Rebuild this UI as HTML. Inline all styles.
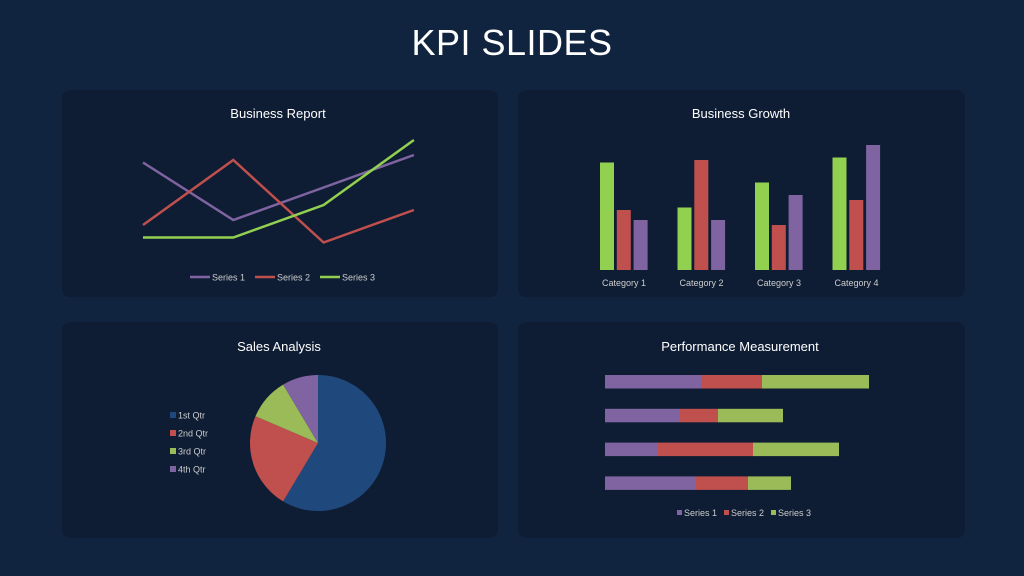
<!DOCTYPE html>
<html><head><meta charset="utf-8"><style>
body{margin:0;width:1024px;height:576px;background:#10233f;font-family:"Liberation Sans",sans-serif;overflow:hidden;position:relative}
.title{position:absolute;left:0;width:1024px;top:22px;text-align:center;color:#fff;font-size:36px;letter-spacing:0.5px}
.panel{position:absolute;background:#0f1d34;border-radius:8px}
svg{position:absolute;left:0;top:0}
</style></head><body>
<div class="title">KPI SLIDES</div>
<div class="panel" style="left:62px;top:90px;width:436px;height:207px"></div>
<div class="panel" style="left:518px;top:90px;width:447px;height:207px"></div>
<div class="panel" style="left:62px;top:322px;width:436px;height:216px"></div>
<div class="panel" style="left:518px;top:322px;width:447px;height:216px"></div>
<svg id="s" width="1024" height="576" font-family="Liberation Sans, sans-serif">
<text x="278" y="118" fill="#fff" font-size="13" text-anchor="middle">Business Report</text>
<text x="741" y="118" fill="#fff" font-size="13" text-anchor="middle">Business Growth</text>
<text x="279" y="351" fill="#fff" font-size="13" text-anchor="middle">Sales Analysis</text>
<text x="740" y="351" fill="#fff" font-size="13" text-anchor="middle">Performance Measurement</text>
</svg>
<script>
const lineS1=[4.3,2.0,3.3,4.6];
const lineS2=[1.8,4.4,1.1,2.4];
const lineS3=[1.3,1.3,2.6,5.2];
const seriesNames=["Series 1","Series 2","Series 3"];
const catNames=["Category 1","Category 2","Category 3","Category 4"];
const barGreen=[4.3,2.5,3.5,4.5];
const barRed=[2.4,4.4,1.8,2.8];
const barPurple=[2.0,2.0,3.0,5.0];
const pieLabels=["1st Qtr","2nd Qtr","3rd Qtr","4th Qtr"];
const pieValues=[8.2,3.2,1.4,1.2];
const stackS1=[4.8,3.75,2.65,4.55];
const stackS2=[3.05,1.9,4.75,2.6];
const stackS3=[5.35,3.25,4.3,2.15];

const NS="http://www.w3.org/2000/svg";
const svg=document.getElementById('s');
function mk(t,a,txt){const e=document.createElementNS(NS,t);for(const k in a)e.setAttribute(k,a[k]);if(txt!==undefined)e.textContent=txt;svg.appendChild(e);return e;}
const PU="#8064a2",RD="#c0504d",GR="#9bbb59",GRB="#92d050",BL="#1f497d";
// line chart
const lx=i=>143+i*90.3, ly=v=>270-v*25;
[[lineS1,PU],[lineS2,RD],[lineS3,GRB]].forEach((s,k)=>{
 const p=mk('polyline',{points:s[0].map((v,i)=>lx(i)+','+ly(v)).join(' '),fill:'none',stroke:s[1],'stroke-width':2.5});
 
 
 const x=190+k*65;
 const l=mk('line',{x1:x,y1:277,x2:x+20,y2:277,stroke:s[1],'stroke-width':2.5});
 
 
 const t=mk('text',{x:x+22,y:280.5,fill:'#ccc','font-size':9},seriesNames[k]);
 
 
});
// bar chart
const by=v=>270-v*25;
catNames.forEach((c,i)=>{
 const x0=600+i*77.5;
 [[barGreen,GRB],[barRed,RD],[barPurple,PU]].forEach((s,k)=>{
  const r=mk('rect',{x:x0+k*16.8,y:by(s[0][i]),width:14,height:270-by(s[0][i]),fill:s[1]});
  
  
 });
 const t=mk('text',{x:x0+24,y:286,fill:'#ccc','font-size':9,'text-anchor':'middle'},c);
 
 
});
// pie
const tot=pieValues.reduce((a,b)=>a+b,0);
const cx=318,cy=443,R=68;const pc=[BL,RD,GR,PU];let a=0;
pieValues.forEach((v,i)=>{
 const a2=a+v/tot*2*Math.PI;
 const p1=[cx+R*Math.sin(a),cy-R*Math.cos(a)],p2=[cx+R*Math.sin(a2),cy-R*Math.cos(a2)];
 const s=mk('path',{d:`M${cx},${cy}L${p1}A${R},${R} 0 ${a2-a>Math.PI?1:0} 1 ${p2}Z`,fill:pc[i]});
 
 
 a=a2;
 const r=mk('rect',{x:170,y:412+i*18,width:6,height:6,fill:pc[i]});
 
 
 const t=mk('text',{x:178,y:418.5+i*18,fill:'#ccc','font-size':9},pieLabels[i]);
 
 
});
// stacked bars
const sx=v=>v*20;
stackS1.forEach((v,i)=>{
 let x=605;const y=375+i*33.8;
 [[stackS1,PU],[stackS2,RD],[stackS3,GR]].forEach((s,k)=>{
  const w=sx(s[0][i]);
  const r=mk('rect',{x:x,y:y,width:w,height:13.5,fill:s[1]});
  
  
  x+=w;
 });
});
[PU,RD,GR].forEach((c,k)=>{
 const x=677+k*47;
 const r=mk('rect',{x:x,y:510,width:5,height:5,fill:c});
 
 
 const t=mk('text',{x:x+7,y:516,fill:'#ccc','font-size':9},seriesNames[k]);
 
 
});
</script>
</body></html>
